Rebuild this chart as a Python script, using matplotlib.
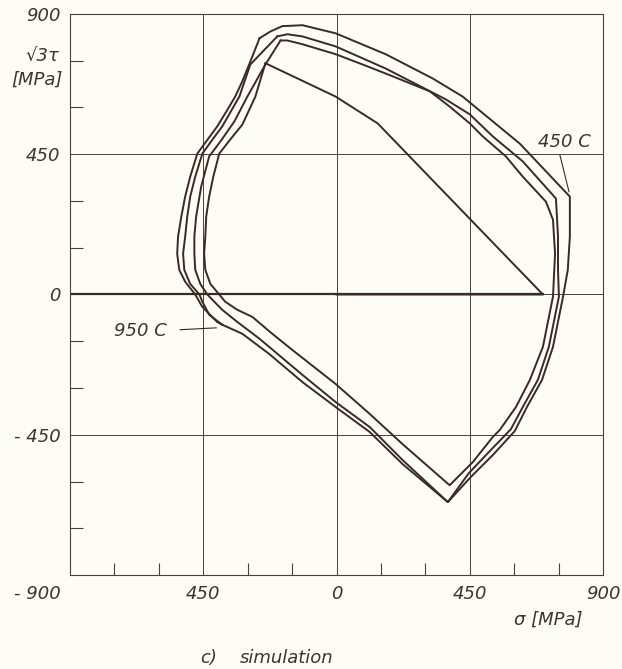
import matplotlib
matplotlib.use("Agg")
import matplotlib.pyplot as plt

# stress path, sigma [MPa] and sqrt(3)*tau [MPa]
load_s = [0, 697, 139, -3, -240]
load_t = [0, 0, 549, 635, 742]

cyc1_s = [-240, -274, -318, -359, -396, -416, -430, -440, -443, -447, -443, -426, -396, -376, -335,
          -284, -217, -149, -3, 112, 223, 382, 460, 528, 551, 606, 653, 697, 731, 738, 731, 707,
          629, 572, 494, 450, 382, 315, 166, 88, -3, -115, -166, -189]
cyc1_t = [742, 635, 545, 497, 452, 378, 314, 250, 186, 131, 79, 34, 0, -23, -49,
          -72, -126, -178, -287, -383, -480, -612, -538, -457, -435, -361, -274, -168, -7, 131, 240, 298,
          378, 443, 507, 549, 603, 652, 709, 738, 771, 803, 815, 815]

cyc2_s = [-189, -240, -301, -345, -392, -430, -457, -474, -480, -480, -477, -460, -436, -419, -386,
          -335, -260, -115, -3, 112, 223, 376, 447, 514, 589, 629, 680, 717, 751, 748, 748, 741,
          629, 528, 450, 369, 166, -3, -115, -166, -200]
cyc2_t = [815, 738, 635, 555, 491, 443, 346, 250, 186, 131, 79, 34, 0, -17, -49,
          -88, -142, -258, -345, -425, -531, -666, -573, -506, -432, -361, -274, -168, -7, 79, 186, 308,
          427, 507, 578, 626, 725, 796, 828, 835, 828]

cyc3_s = [-200, -291, -328, -386, -419, -453, -477, -494, -504, -511, -518, -514, -494, -463, -453,
          -430, -386, -318, -227, -115, -3, 112, 223, 376, 453, 528, 602, 643, 694, 731, 765, 781,
          788, 788, 619, 426, 325, 166, -3, -115, -183, -223, -260]
cyc3_t = [828, 738, 635, 539, 497, 452, 378, 314, 250, 186, 131, 79, 34, 0, -23,
          -65, -97, -126, -191, -281, -361, -441, -544, -666, -586, -515, -438, -361, -274, -168, -7, 79,
          186, 314, 484, 635, 693, 771, 838, 864, 861, 844, 822]

tail_s = [-260, -284, -318, -342, -372, -403, -470, -494, -511, -524, -535, -538, -531, -511, -477,
          -453, -403, -386]
tail_t = [822, 764, 684, 635, 587, 539, 452, 378, 314, 250, 186, 131, 79, 41, 0,
          -40, -88, -97]

major = [-900, -450, 0, 450, 900]
minor = [-750, -600, -300, -150, 150, 300, 600, 750]
ylabels = ["", "- 450", "0", "450", "900"]
xlabels = ["", "450", "0", "450", "900"]

ink = "#3a2a22"
paper = "#fdfcf6"
font = dict(family="DejaVu Sans", style="italic", color="#3a3530", fontsize=13)

fig = plt.figure(figsize=(6.22, 6.69), dpi=100, facecolor=paper)
ax = fig.add_axes([0.1125, 0.1405, 0.857, 0.8386], facecolor=paper)
ax.set_xlim(-900, 900)
ax.set_ylim(-900, 900)

for v in major[1:-1]:
    ax.axvline(v, color="#4a4038", lw=0.7, zorder=1)
    ax.axhline(v, color="#4a4038", lw=0.7, zorder=1)
ax.plot([-900, load_s[1]], [0, 0], color=ink, lw=1.6, zorder=2)

for path_s, path_t in [(load_s, load_t), (cyc1_s, cyc1_t), (cyc2_s, cyc2_t),
                       (cyc3_s, cyc3_t), (tail_s, tail_t)]:
    ax.plot(path_s, path_t, color=ink, lw=1.4, solid_joinstyle="round", zorder=3)

for sp in ax.spines.values():
    sp.set_color("#4a4038")
    sp.set_linewidth(0.8)

ax.set_xticks(major)
ax.set_yticks(major)
ax.set_xticklabels(xlabels, **font)
ax.set_yticklabels(ylabels, **font)
ax.set_xticks(minor, minor=True)
ax.set_yticks(minor, minor=True)
ax.tick_params(which="major", length=0, pad=7)
ax.tick_params(which="minor", direction="in", length=9, width=0.8, color="#4a4038")
ax.tick_params(top=False, right=False, which="both")

ax.text(-930, -960, "- 900", ha="right", va="center", **font)
ax.text(-935, 765, "√3τ", ha="right", va="center", **font)
ax.text(-925, 690, "[MPa]", ha="right", va="center", **font)
ax.text(714, -1045, "σ [MPa]", ha="center", va="center", **font)

ax.text(771, 488, "450 C", ha="center", va="center", **font)
ax.plot([754, 785], [449, 330], color=ink, lw=0.8)
ax.text(-572, -117, "950 C", ha="right", va="center", **font)
ax.plot([-528, -406], [-113, -107], color=ink, lw=0.8)

fig.text(0.3215, 0.017, "c)", ha="left", va="center", **font)
fig.text(0.385, 0.017, "simulation", ha="left", va="center", **font)

fig.savefig("out.png", dpi=100, facecolor=paper)
